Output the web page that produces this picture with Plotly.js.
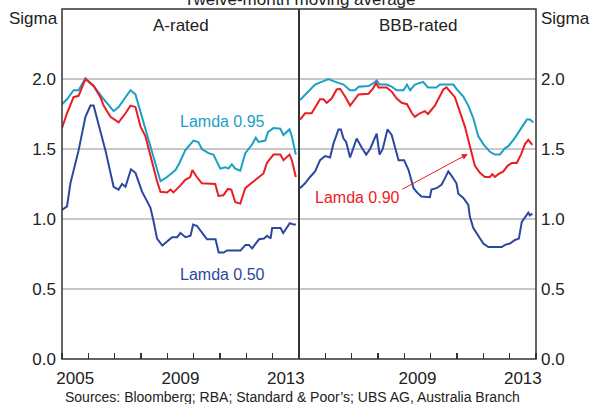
<!DOCTYPE html>
<html>
<head>
<meta charset="utf-8">
<script src="https://cdn.plot.ly/plotly-3.0.1.min.js"></script>
<style>html,body{margin:0;padding:0;background:#fff;}#chart{width:591px;height:404px;}</style>
</head>
<body>
<div id="chart"></div>
<script>
// ---- Data (decimal years, sigma) ----
// A-rated
const aL95Years = [2005.00,2005.19,2005.44,2005.63,2005.89,2006.20,2006.52,2006.71,2006.96,2007.15,2007.60,2007.79,2008.04,2008.29,2008.55,2008.74,2008.99,2009.31,2009.46,2009.68,2009.99,2010.18,2010.31,2010.56,2010.75,2010.88,2011.01,2011.20,2011.32,2011.45,2011.58,2011.77,2011.96,2012.21,2012.36,2012.46,2012.72,2012.82,2013.03,2013.29,2013.41,2013.64,2013.73,2013.88];
const aL95Vals  = [1.82,1.855,1.92,1.92,2.005,1.95,1.87,1.83,1.77,1.80,1.92,1.89,1.73,1.56,1.40,1.27,1.30,1.35,1.40,1.49,1.56,1.55,1.50,1.47,1.46,1.41,1.36,1.37,1.36,1.39,1.36,1.345,1.47,1.53,1.58,1.55,1.56,1.62,1.65,1.645,1.60,1.64,1.59,1.46];

const aL90Years = [2005.00,2005.19,2005.44,2005.63,2005.89,2006.20,2006.46,2006.58,2006.84,2007.15,2007.41,2007.60,2007.79,2007.98,2008.17,2008.36,2008.61,2008.74,2008.99,2009.12,2009.23,2009.50,2009.68,2009.87,2009.95,2010.12,2010.31,2010.82,2010.94,2011.13,2011.30,2011.43,2011.58,2011.77,2011.96,2012.15,2012.46,2012.65,2012.78,2013.03,2013.29,2013.41,2013.64,2013.73,2013.88];
const aL90Vals  = [1.65,1.755,1.87,1.88,2.00,1.95,1.87,1.81,1.73,1.69,1.755,1.81,1.80,1.66,1.59,1.445,1.27,1.195,1.19,1.21,1.19,1.24,1.28,1.30,1.35,1.30,1.255,1.25,1.165,1.17,1.215,1.21,1.12,1.11,1.22,1.25,1.30,1.325,1.40,1.46,1.46,1.42,1.46,1.42,1.30];

const aL50Years = [2005.00,2005.19,2005.32,2005.63,2005.89,2006.08,2006.20,2006.39,2006.65,2006.96,2007.15,2007.28,2007.41,2007.62,2007.79,2008.04,2008.23,2008.36,2008.48,2008.61,2008.81,2008.99,2009.18,2009.37,2009.50,2009.69,2009.88,2009.98,2010.13,2010.38,2010.51,2010.83,2010.95,2011.14,2011.27,2011.78,2011.97,2012.10,2012.22,2012.48,2012.67,2012.79,2012.92,2012.98,2013.30,2013.40,2013.65,2013.81,2013.88];
const aL50Vals  = [1.065,1.09,1.255,1.49,1.73,1.81,1.81,1.68,1.49,1.23,1.21,1.25,1.23,1.355,1.33,1.195,1.12,1.08,0.98,0.86,0.81,0.84,0.87,0.87,0.90,0.87,0.88,0.96,0.95,0.886,0.855,0.855,0.76,0.76,0.775,0.775,0.815,0.815,0.79,0.855,0.86,0.88,0.86,0.935,0.935,0.90,0.97,0.96,0.96];

// BBB-rated
const bL95Years = [2005.04,2005.23,2005.42,2005.61,2005.86,2006.12,2006.31,2006.69,2006.94,2007.13,2007.26,2007.64,2007.83,2007.95,2008.06,2008.33,2008.52,2008.71,2008.97,2009.10,2009.22,2009.40,2009.71,2009.90,2010.22,2010.35,2010.86,2010.98,2011.24,2011.43,2011.62,2011.81,2012.00,2012.25,2012.44,2012.63,2012.82,2012.95,2013.20,2013.46,2013.65,2013.77,2013.90];
const bL95Vals  = [1.85,1.885,1.92,1.96,1.98,2.00,1.985,1.96,1.92,1.92,1.945,1.95,1.97,1.99,1.96,1.96,1.945,1.92,1.92,1.96,1.92,1.96,1.98,1.94,1.94,1.96,1.96,1.93,1.875,1.81,1.72,1.59,1.535,1.48,1.46,1.46,1.505,1.52,1.58,1.65,1.71,1.71,1.69];

const bL90Years = [2005.04,2005.23,2005.48,2005.61,2005.80,2005.93,2006.05,2006.24,2006.43,2006.56,2006.75,2006.94,2007.13,2007.26,2007.64,2007.80,2007.93,2008.02,2008.33,2008.52,2008.71,2008.90,2009.10,2009.29,2009.40,2009.59,2009.78,2009.90,2010.16,2010.29,2010.48,2010.60,2010.77,2010.92,2011.11,2011.30,2011.49,2011.68,2011.87,2012.06,2012.25,2012.34,2012.44,2012.57,2012.76,2012.92,2013.08,2013.27,2013.43,2013.58,2013.71,2013.86];
const bL90Vals  = [1.71,1.755,1.755,1.80,1.855,1.855,1.83,1.86,1.925,1.93,1.875,1.81,1.86,1.89,1.895,1.93,1.97,1.94,1.94,1.91,1.86,1.83,1.82,1.755,1.73,1.755,1.77,1.75,1.81,1.86,1.925,1.94,1.90,1.87,1.765,1.66,1.52,1.38,1.33,1.30,1.30,1.32,1.30,1.32,1.34,1.38,1.40,1.40,1.46,1.535,1.565,1.53];

const bL50Years = [2005.04,2005.23,2005.42,2005.61,2005.80,2005.99,2006.18,2006.31,2006.50,2006.59,2006.69,2006.79,2006.94,2007.07,2007.19,2007.38,2007.55,2007.70,2007.95,2008.06,2008.18,2008.36,2008.52,2008.78,2008.99,2009.16,2009.35,2009.48,2009.65,2009.97,2010.03,2010.22,2010.41,2010.54,2010.67,2010.79,2010.98,2011.05,2011.24,2011.43,2011.49,2011.62,2011.81,2012.00,2012.19,2012.70,2012.82,2013.01,2013.20,2013.35,2013.46,2013.65,2013.71,2013.77,2013.86];
const bL50Vals  = [1.22,1.255,1.30,1.34,1.42,1.45,1.44,1.54,1.64,1.64,1.575,1.55,1.44,1.505,1.575,1.51,1.46,1.50,1.61,1.46,1.50,1.64,1.60,1.42,1.42,1.35,1.22,1.19,1.16,1.155,1.21,1.22,1.245,1.29,1.34,1.31,1.255,1.18,1.15,1.10,1.015,0.935,0.875,0.825,0.80,0.80,0.815,0.825,0.85,0.86,0.98,1.03,1.045,1.025,1.04];

const leftYearTickVals = [2005.5, 2009.5, 2013.5];
const leftYearTickText = ['2005', '2009', '2013'];
const rightYearTickVals = [2009.5, 2013.5];
const rightYearTickText = ['2009', '2013'];
const yearBoundaries = [2005,2006,2007,2008,2009,2010,2011,2012,2013,2014];
const sigmaTickVals = [0, 0.5, 1.0, 1.5, 2.0];
const sigmaTickText = ['0.0', '0.5', '1.0', '1.5', '2.0'];

// ---- Styles ----
const TEAL = '#1b9fc6', RED = '#ec1c24', BLUE = '#2b48a0';
const FONT = 'Arial, "Liberation Sans", Helvetica, sans-serif';
const TXT = '#222';
const FS = 17;

function line(x, y, color, xa, ya) {
  return {x: x, y: y, type: 'scatter', mode: 'lines', xaxis: xa, yaxis: ya,
          line: {color: color, width: 2}, hoverinfo: 'skip', showlegend: false};
}

const data = [
  line(aL95Years, aL95Vals, TEAL, 'x', 'y'),
  line(aL90Years, aL90Vals, RED, 'x', 'y'),
  line(aL50Years, aL50Vals, BLUE, 'x', 'y'),
  line(bL95Years, bL95Vals, TEAL, 'x2', 'y2'),
  line(bL90Years, bL90Vals, RED, 'x2', 'y2'),
  line(bL50Years, bL50Vals, BLUE, 'x2', 'y2')
];

function xAxis(domain, anchor, tv, tt) {
  return {
    domain: domain, anchor: anchor, range: [2005, 2014], fixedrange: true,
    tickmode: 'array', tickvals: tv, ticktext: tt,
    ticks: '', ticklabelstandoff: 7,
    tickfont: {family: FONT, size: FS, color: TXT},
    showgrid: false, zeroline: false, showline: false,
    minor: {tickmode: 'array', tickvals: yearBoundaries, ticks: 'inside', ticklen: 6,
            tickwidth: 1.3, tickcolor: '#333', showgrid: false}
  };
}
function yAxis(side, anchor, standoff) {
  return {
    anchor: anchor, side: side, range: [0, 2.5], fixedrange: true,
    tickmode: 'array', tickvals: sigmaTickVals, ticktext: sigmaTickText,
    ticks: '', ticklabelstandoff: standoff,
    tickfont: {family: FONT, size: FS, color: TXT},
    showgrid: true, gridcolor: '#c8c8c8', gridwidth: 1.5,
    zeroline: false, showline: false
  };
}

const layout = {
  width: 591, height: 404,
  margin: {l: 62, r: 55, t: 9, b: 45},
  paper_bgcolor: '#fff', plot_bgcolor: '#fff',
  font: {family: FONT, color: TXT},
  xaxis: xAxis([0, 0.5], 'y', leftYearTickVals, leftYearTickText),
  xaxis2: xAxis([0.5, 1], 'y2', rightYearTickVals, rightYearTickText),
  yaxis: yAxis('left', 'x', 5),
  yaxis2: yAxis('right', 'x2', 4),
  shapes: [
    {type: 'rect', xref: 'paper', yref: 'paper', x0: 0, x1: 1, y0: 0, y1: 1,
     line: {color: '#333', width: 1.5}},
    {type: 'line', xref: 'paper', yref: 'paper', x0: 0.5, x1: 0.5, y0: 0, y1: 1,
     line: {color: '#333', width: 2}}
  ],
  annotations: [
    {text: 'Twelve-month moving average', xref: 'paper', yref: 'paper', x: 0.503, y: 1,
     xanchor: 'center', yanchor: 'bottom', yshift: -2, showarrow: false,
     font: {family: FONT, size: FS, color: TXT}},
    {text: 'A-rated', xref: 'x', yref: 'y', x: 2009.5, y: 2.38, showarrow: false,
     xanchor: 'center', yanchor: 'middle', font: {family: FONT, size: FS, color: TXT}},
    {text: 'BBB-rated', xref: 'x2', yref: 'y2', x: 2009.5, y: 2.38, showarrow: false,
     xanchor: 'center', yanchor: 'middle', font: {family: FONT, size: FS, color: TXT}},
    {text: 'Sigma', xref: 'paper', yref: 'paper', x: -0.0605, y: 0.972, showarrow: false,
     xanchor: 'center', yanchor: 'middle', font: {family: FONT, size: FS, color: TXT}},
    {text: 'Sigma', xref: 'paper', yref: 'paper', x: 1.063, y: 0.972, showarrow: false,
     xanchor: 'center', yanchor: 'middle', font: {family: FONT, size: FS, color: TXT}},
    {text: 'Lamda 0.95', xref: 'x', yref: 'y', x: 2011.08, y: 1.70, showarrow: false,
     xanchor: 'center', yanchor: 'middle', font: {family: FONT, size: 16, color: TEAL}},
    {text: 'Lamda 0.50', xref: 'x', yref: 'y', x: 2011.08, y: 0.607, showarrow: false,
     xanchor: 'center', yanchor: 'middle', font: {family: FONT, size: 16, color: BLUE}},
    {text: 'Lamda 0.90', xref: 'x2', yref: 'y2', x: 2007.23, y: 1.157, showarrow: false,
     xanchor: 'center', yanchor: 'middle', font: {family: FONT, size: 16, color: RED}},
    {text: '', xref: 'x2', yref: 'y2', x: 2011.41, y: 1.464, showarrow: true,
     ax: -67, ay: 36, arrowhead: 2, arrowsize: 1.2, arrowwidth: 1, arrowcolor: RED, standoff: 0},
    {text: 'Sources: Bloomberg; RBA; Standard & Poor\u2019s; UBS AG, Australia Branch',
     xref: 'paper', yref: 'paper', x: 0.487, y: -0.109, xanchor: 'center', yanchor: 'middle',
     showarrow: false, font: {family: FONT, size: 14, color: TXT}}
  ]
};

Plotly.newPlot('chart', data, layout, {staticPlot: true, displayModeBar: false});
</script>
</body>
</html>
